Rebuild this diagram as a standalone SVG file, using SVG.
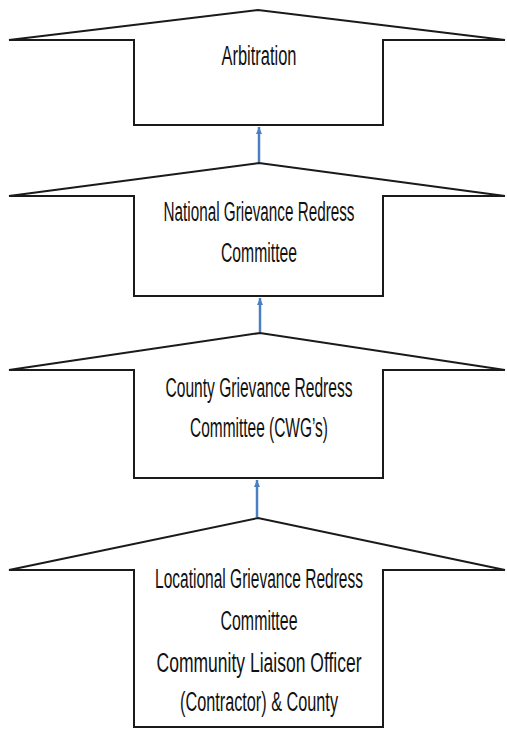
<svg xmlns="http://www.w3.org/2000/svg" width="507" height="731" viewBox="0 0 507 731">
<style>
.shape{fill:#fff;stroke:#1a1a1a;stroke-width:2;stroke-linejoin:miter}
.lbl{font-family:"Liberation Sans",Arial,sans-serif;font-size:16px;fill:#111;text-anchor:middle}
.conn{stroke:#4a80c2;stroke-width:2.5;fill:none}
</style>
<defs>
<marker id="ah" markerUnits="userSpaceOnUse" markerWidth="8" markerHeight="8" refX="7" refY="4" orient="auto">
<path d="M0,1 L7,4 L0,7 Z" fill="#4a80c2"/>
</marker>
</defs>
<rect width="507" height="731" fill="#fff"/>
<g id="node-arbitration">
<path class="shape" d="M9 40 L258 10 L505 40 L383 40 L383 125 L134 125 L134 40 Z"/>
<text class="lbl" transform="translate(259 65) scale(1 1.75)" textLength="75" lengthAdjust="spacingAndGlyphs">Arbitration</text>
</g>
<g id="node-national">
<path class="shape" d="M9 196 L259 163 L505 196 L383 196 L383 296 L134 296 L134 196 Z"/>
<text class="lbl" transform="translate(259 221) scale(1 1.75)" textLength="191" lengthAdjust="spacingAndGlyphs">National Grievance Redress</text>
<text class="lbl" transform="translate(259 262) scale(1 1.75)" textLength="76" lengthAdjust="spacingAndGlyphs">Committee</text>
</g>
<g id="node-county">
<path class="shape" d="M9 370 L260 333 L505 370 L383 370 L383 478 L134 478 L134 370 Z"/>
<text class="lbl" transform="translate(259 397) scale(1 1.75)" textLength="187" lengthAdjust="spacingAndGlyphs">County Grievance Redress</text>
<text class="lbl" transform="translate(259 437) scale(1 1.75)" textLength="138" lengthAdjust="spacingAndGlyphs">Committee (CWG’s)</text>
</g>
<g id="node-locational">
<path class="shape" d="M9 570 L258 518 L505 570 L383 570 L383 727 L134 727 L134 570 Z"/>
<text class="lbl" transform="translate(259 588) scale(1 1.75)" textLength="208" lengthAdjust="spacingAndGlyphs">Locational Grievance Redress</text>
<text class="lbl" transform="translate(259 630) scale(1 1.75)" textLength="77" lengthAdjust="spacingAndGlyphs">Committee</text>
<text class="lbl" transform="translate(259 672) scale(1 1.75)" textLength="205" lengthAdjust="spacingAndGlyphs">Community Liaison Officer</text>
<text class="lbl" transform="translate(259 711) scale(1 1.75)" textLength="158" lengthAdjust="spacingAndGlyphs">(Contractor) &amp; County</text>
</g>
<g id="connectors">
<line class="conn" x1="259" y1="162" x2="259" y2="127" marker-end="url(#ah)"/>
<line class="conn" x1="260" y1="332" x2="260" y2="298" marker-end="url(#ah)"/>
<line class="conn" x1="257" y1="517" x2="257" y2="480" marker-end="url(#ah)"/>
</g>
</svg>
